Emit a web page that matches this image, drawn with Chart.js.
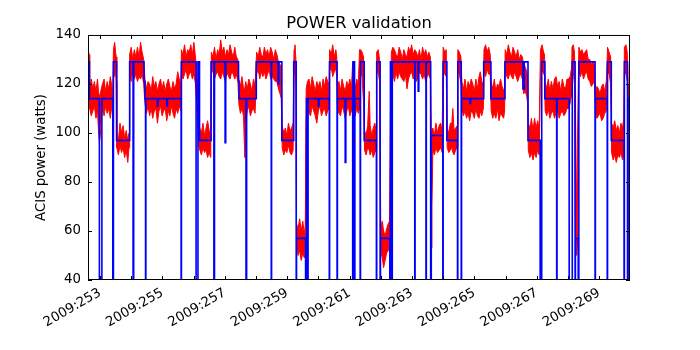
<!DOCTYPE html>
<html>
<head>
<meta charset="utf-8">
<title>POWER validation</title>
<script src="https://cdn.jsdelivr.net/npm/chart.js@4.4.1/dist/chart.umd.min.js"></script>
<style>
  html, body { margin: 0; padding: 0; background: #fff; }
  #wrap { width: 700px; height: 350px; }
</style>
</head>
<body>
<div id="wrap"><canvas id="myChart" width="700" height="350"></canvas></div>
<script>
// x values are 2009 day-of-year (fractional days)
var labelDays = [253, 255, 257, 259, 261, 263, 265, 267, 269];
var yTicks = [40, 60, 80, 100, 120, 140];

// Model (blue): power level holds from each time until the next one
var modelTime = [
  252.62, 252.66, 252.98, 253.06, 253.41, 253.43, 253.53, 253.95, 254.06, 254.08,
  254.41, 254.44, 254.46, 254.47, 254.84, 254.86, 255.14, 255.16, 255.60, 255.61,
  256.08, 256.14, 256.19, 256.56, 256.65, 256.67, 257.01, 257.03, 257.44, 257.46,
  257.68, 257.70, 258.01, 258.49, 258.50, 258.71, 258.73, 258.83, 259.21, 259.29,
  259.30, 259.59, 259.62, 259.64, 259.67, 260.00, 260.02, 260.35, 260.36, 260.60,
  260.61, 260.86, 260.88, 261.10, 261.11, 261.16, 261.17, 261.34, 261.35, 261.47,
  261.86, 261.87, 261.98, 261.99, 262.29, 262.31, 262.33, 262.37, 263.09, 263.10,
  263.20, 263.22, 263.45, 263.46, 263.60, 263.62, 263.99, 264.00, 264.12, 264.46,
  264.47, 264.58, 264.59, 264.86, 264.88, 265.30, 265.53, 265.98, 266.56, 266.60,
  266.72, 267.11, 267.16, 267.26, 267.64, 267.65, 268.04, 268.14, 268.23, 268.24,
  268.33, 268.35, 268.87, 268.88, 269.26, 269.27, 269.39, 269.80, 269.81, 269.91,
  269.93, 269.99
];
var modelPower = [
  129, 114, 0, 114, 0, 129, 97, 129, 0, 129,
  121, 114, 0, 114, 111, 114, 111, 114, 0, 129,
  0, 129, 97, 129, 0, 129, 96, 129, 121, 114,
  0, 114, 129, 0, 129, 120, 129, 97, 129, 0,
  57, 0, 114, 0, 114, 111, 114, 0, 129, 0,
  114, 88, 114, 0, 129, 0, 114, 0, 129, 97,
  0, 129, 0, 57, 0, 129, 0, 129, 0, 129,
  117, 129, 0, 129, 0, 99, 0, 129, 97, 0,
  129, 0, 114, 112, 114, 129, 114, 129, 118, 129,
  97, 0, 129, 114, 0, 114, 0, 129, 0, 57,
  0, 129, 0, 114, 0, 129, 97, 0, 129, 0,
  114, 114
];

// Telemetry (red): noisy band, upper and lower edge
var telemTime = [
  252.62, 252.65,
  252.67, 252.72, 252.77, 252.82, 252.87, 252.92,
  252.95, 252.98, 253.01, 253.04,
  253.08, 253.13, 253.18, 253.23, 253.28, 253.33, 253.38, 253.41,
  253.43, 253.47, 253.50, 253.52,
  253.54, 253.59, 253.64, 253.69, 253.74, 253.79, 253.84, 253.89, 253.93,
  253.95, 254.00, 254.05, 254.10, 254.15, 254.20, 254.25, 254.30, 254.35, 254.40,
  254.44, 254.49, 254.54, 254.59, 254.64, 254.69, 254.74, 254.79, 254.84, 254.89, 254.94, 254.99,
  255.04, 255.09, 255.14, 255.19, 255.24, 255.29, 255.34, 255.39, 255.44, 255.49, 255.54, 255.59,
  255.61, 255.66, 255.71, 255.76, 255.81, 255.86, 255.91, 255.96, 256.01, 256.06,
  256.10, 256.16,
  256.20, 256.25, 256.30, 256.35, 256.40, 256.45, 256.50, 256.55,
  256.57, 256.62, 256.67, 256.72, 256.77, 256.82, 256.87, 256.92, 256.97,
  257.02, 257.07, 257.12, 257.17, 257.22, 257.27, 257.32, 257.37, 257.42,
  257.45, 257.50, 257.55, 257.60, 257.64, 257.67, 257.72, 257.77, 257.82, 257.87, 257.92, 257.97,
  258.02, 258.07, 258.12, 258.17, 258.22, 258.27, 258.32, 258.37, 258.42, 258.47, 258.52, 258.57, 258.62, 258.67,
  258.72, 258.77, 258.81,
  258.84, 258.89, 258.94, 258.99, 259.04, 259.09, 259.14, 259.19,
  259.22, 259.25, 259.28,
  259.30, 259.35, 259.40, 259.45, 259.50, 259.55, 259.58,
  259.61, 259.65, 259.70, 259.75, 259.80, 259.85, 259.90, 259.95,
  260.00, 260.05, 260.10, 260.15, 260.20, 260.25, 260.30, 260.34,
  260.36, 260.41, 260.46, 260.51, 260.56, 260.59,
  260.61, 260.66, 260.71, 260.76, 260.81, 260.86, 260.91, 260.96,
  261.01, 261.06, 261.10, 261.13, 261.18, 261.23, 261.28, 261.32,
  261.35, 261.40, 261.45,
  261.48, 261.53, 261.58, 261.63, 261.66, 261.71, 261.76, 261.81, 261.85,
  261.87, 261.92, 261.96,
  262.00, 262.05, 262.09, 262.14, 262.19, 262.24, 262.28, 262.31,
  262.34, 262.39, 262.44, 262.49, 262.54, 262.59, 262.64, 262.69, 262.74, 262.79, 262.84, 262.89, 262.94,
  262.99, 263.04, 263.09, 263.14, 263.19, 263.24, 263.29, 263.34, 263.39, 263.44, 263.49, 263.54, 263.59,
  263.62, 263.64, 263.67, 263.72, 263.77, 263.82, 263.87, 263.92, 263.97,
  264.00, 264.05, 264.10,
  264.13, 264.18, 264.23, 264.28, 264.31, 264.35, 264.40, 264.45,
  264.47, 264.52, 264.57,
  264.60, 264.65, 264.70, 264.75, 264.80, 264.85, 264.90, 264.95, 265.00, 265.05, 265.10, 265.15, 265.19, 265.24, 265.29,
  265.31, 265.36, 265.41, 265.46, 265.51,
  265.54, 265.59, 265.64, 265.69, 265.74, 265.79, 265.84, 265.89, 265.94, 265.97,
  265.99, 266.04, 266.09, 266.14, 266.19, 266.24, 266.29, 266.34, 266.39, 266.44, 266.49, 266.54,
  266.58, 266.63, 266.68, 266.71,
  266.73, 266.78, 266.83, 266.88, 266.93, 266.98, 267.03, 267.08,
  267.12, 267.17, 267.22, 267.25,
  267.27, 267.32, 267.37, 267.42, 267.47, 267.52, 267.57, 267.62, 267.67,
  267.72, 267.77, 267.82, 267.87, 267.92, 267.97, 268.02, 268.07, 268.11,
  268.13, 268.17, 268.21,
  268.24, 268.28, 268.31,
  268.35, 268.40, 268.45, 268.50, 268.55, 268.60, 268.65, 268.70, 268.75, 268.80, 268.85,
  268.88, 268.93, 268.98, 269.03, 269.08, 269.13, 269.18, 269.23,
  269.27, 269.32, 269.37,
  269.40, 269.45, 269.50, 269.55, 269.60, 269.65, 269.70, 269.75, 269.79,
  269.81, 269.86, 269.90,
  269.93, 269.99
];
var telemHigh = [
  134, 132,
  119, 122, 118, 121, 117, 122,
  117, 115, 116, 118,
  120, 122, 117, 121, 118, 123, 119, 118,
  134, 137, 133, 131,
  101, 97, 104, 100, 103, 98, 101, 97, 100,
  132, 135, 130, 134, 131, 135, 131, 137, 133, 130,
  122, 118, 121, 120, 117, 123, 119, 121, 117, 120, 122, 118,
  121, 117, 120, 122, 119, 117, 121, 118, 120, 125, 122, 120,
  134, 132, 136, 131, 134, 133, 136, 132, 137, 131,
  126, 104,
  102, 100, 104, 99, 102, 105, 101, 100,
  133, 131, 135, 130, 134, 132, 138, 133, 135,
  131, 134, 132, 136, 133, 131, 135, 131, 130,
  122, 119, 123, 118, 118, 121, 118, 122, 120, 117, 122, 119,
  133, 131, 135, 132, 131, 135, 132, 134, 131, 135, 133, 130, 134, 132,
  129, 128, 127,
  103, 100, 102, 99, 104, 101, 102, 104,
  134, 136, 130,
  63, 61, 65, 60, 64, 59, 62,
  118, 121, 122, 118, 123, 120, 117, 121,
  119, 121, 117, 122, 119, 123, 121, 120,
  134, 132, 136, 131, 134, 131,
  119, 121, 117, 122, 119, 117, 121, 119,
  122, 118, 129, 120, 118, 122, 120, 134,
  134, 133, 131,
  101, 99, 103, 117, 103, 99, 102, 104, 101,
  133, 134, 130,
  62, 64, 60, 58, 61, 63, 64, 108,
  133, 135, 134, 132, 131, 135, 133, 130, 134, 132, 131, 135, 133,
  136, 132, 134, 133, 131, 134, 130, 135, 132, 134, 131, 133, 131,
  100, 101, 102, 99, 104, 100, 103, 104, 101,
  135, 133, 134,
  102, 100, 104, 104, 110, 101, 102, 103,
  134, 133, 131,
  121, 118, 122, 117, 121, 119, 122, 120, 117, 122, 118, 123, 125, 121, 120,
  134, 136, 133, 135, 132,
  121, 118, 122, 117, 120, 119, 122, 119, 117, 119,
  134, 132, 136, 133, 131, 135, 133, 131, 134, 130, 132, 131,
  128, 127, 125, 122,
  104, 102, 106, 101, 106, 102, 105, 102,
  134, 136, 133, 132,
  121, 118, 122, 117, 121, 118, 122, 123, 119,
  121, 117, 122, 119, 118, 122, 122, 123, 126,
  135, 136, 133,
  110, 65, 100,
  135, 133, 134, 132, 133, 134, 130, 130, 128, 129, 128,
  117, 119, 118, 116, 119, 120, 117, 121,
  135, 133, 131,
  104, 102, 105, 101, 103, 100, 104, 102, 106,
  135, 136, 133,
  120, 119
];
var telemLow = [
  125, 112,
  110, 107, 109, 111, 106, 109,
  101, 96, 99, 106,
  110, 107, 111, 108, 110, 106, 111, 109,
  125, 123, 126, 121,
  94, 91, 95, 92, 94, 90, 93, 88, 94,
  124, 121, 125, 122, 124, 121, 123, 122, 124, 120,
  112, 108, 111, 107, 110, 106, 109, 110, 104, 109, 111, 107,
  109, 110, 105, 109, 107, 111, 108, 106, 110, 108, 111, 109,
  125, 122, 124, 126, 122, 124, 125, 122, 124, 120,
  112, 95,
  93, 91, 94, 92, 93, 90, 92, 90,
  124, 126, 122, 124, 125, 123, 122, 125, 123,
  121, 125, 123, 122, 125, 124, 122, 124, 121,
  112, 108, 110, 107, 90, 104, 109, 111, 107, 109, 110, 108,
  124, 126, 122, 125, 123, 125, 122, 124, 126, 122, 123, 122, 121, 121,
  118, 116, 114,
  94, 91, 93, 92, 95, 92, 91, 93,
  124, 126, 120,
  54, 50, 52, 48, 51, 49, 53,
  106, 110, 108, 107, 111, 109, 107, 104,
  109, 111, 107, 109, 110, 107, 109, 110,
  125, 127, 123, 125, 126, 123,
  110, 108, 107, 111, 109, 106, 109, 111,
  107, 109, 110, 108, 107, 110, 108, 110,
  124, 123, 112,
  93, 91, 94, 93, 91, 93, 90, 92, 93,
  124, 125, 121,
  52, 49, 45, 48, 51, 52, 55, 60,
  123, 124, 121, 125, 122, 125, 123, 122, 121, 124, 118, 122, 124,
  125, 122, 124, 121, 123, 125, 124, 122, 124, 121, 123, 124, 122,
  53, 70, 93, 91, 94, 92, 93, 94, 92,
  125, 124, 123,
  94, 92, 93, 94, 92, 91, 93, 94,
  125, 124, 120,
  110, 107, 109, 106, 108, 105, 109, 108, 106, 110, 107, 106, 109, 107, 110,
  125, 123, 126, 124, 124,
  109, 106, 108, 106, 110, 105, 108, 107, 106, 109,
  125, 123, 122, 125, 123, 122, 125, 123, 121, 123, 124, 122,
  116, 117, 115, 112,
  93, 90, 92, 89, 92, 90, 93, 91,
  125, 126, 124, 124,
  109, 107, 110, 106, 108, 109, 106, 108, 109,
  106, 108, 109, 107, 108, 110, 110, 112, 115,
  126, 125, 120,
  60, 50, 55,
  125, 123, 125, 122, 124, 125, 122, 121, 119, 120, 121,
  108, 106, 107, 108, 105, 106, 108, 109,
  125, 124, 120,
  92, 89, 91, 88, 91, 90, 92, 89, 91,
  125, 124, 121,
  110, 109
];

if (telemTime.length !== telemHigh.length || telemTime.length !== telemLow.length) {
  console.log("telemetry arrays differ:", telemTime.length, telemHigh.length, telemLow.length);
}
if (modelTime.length !== modelPower.length) {
  console.log("model arrays differ:", modelTime.length, modelPower.length);
}

function toPoints(xs, ys) {
  return xs.map(function (x, i) { return { x: x, y: ys[i] }; });
}

// Inward tick marks on all four sides plus the axes frame (matplotlib look)
var frameTicks = {
  id: "frameTicks",
  afterDraw: function (chart) {
    var ctx = chart.ctx;
    var a = chart.chartArea;
    var xs = chart.scales.x;
    var ys = chart.scales.y;
    ctx.save();
    ctx.strokeStyle = "#000";
    ctx.lineWidth = 1;
    ctx.beginPath();
    xs.ticks.forEach(function (t) {
      if (Math.abs(t.value - Math.round(t.value)) > 1e-6) return;
      var px = Math.round(xs.getPixelForValue(t.value)) + 0.5;
      ctx.moveTo(px, a.bottom); ctx.lineTo(px, a.bottom - 4);
      ctx.moveTo(px, a.top); ctx.lineTo(px, a.top + 4);
    });
    ys.ticks.forEach(function (t) {
      var py = Math.round(ys.getPixelForValue(t.value)) + 0.5;
      ctx.moveTo(a.left, py); ctx.lineTo(a.left + 4, py);
      ctx.moveTo(a.right, py); ctx.lineTo(a.right - 4, py);
    });
    ctx.stroke();
    ctx.strokeRect(a.left + 0.5, a.top + 0.5, a.right - a.left - 1, a.bottom - a.top - 1);
    ctx.restore();
  }
};

Chart.defaults.font.family = "'DejaVu Sans', sans-serif";
Chart.defaults.color = "#000";

var ctx = document.getElementById("myChart").getContext("2d");
var myChart = new Chart(ctx, {
  type: "line",
  data: {
    datasets: [
      {
        label: "Model",
        data: toPoints(modelTime, modelPower),
        borderColor: "#0000ff",
        borderWidth: 1.6,
        stepped: true,
        pointRadius: 0,
        fill: false,
        order: 0
      },
      {
        label: "Telemetry high",
        data: toPoints(telemTime, telemHigh),
        borderColor: "#ff0000",
        backgroundColor: "#ff0000",
        borderWidth: 1,
        pointRadius: 0,
        fill: false,
        order: 1
      },
      {
        label: "Telemetry low",
        data: toPoints(telemTime, telemLow),
        borderColor: "#ff0000",
        backgroundColor: "#ff0000",
        borderWidth: 1,
        pointRadius: 0,
        fill: "-1",
        order: 2
      }
    ]
  },
  options: {
    responsive: false,
    animation: false,
    events: [],
    layout: { padding: { left: 0, right: 70, top: 0, bottom: 0 } },
    plugins: {
      legend: { display: false },
      tooltip: { enabled: false },
      title: {
        display: true,
        fullSize: false,
        text: "POWER validation",
        color: "#000",
        font: { size: 16.3, weight: "normal" },
        padding: { top: 14, bottom: 1.4 }
      }
    },
    scales: {
      x: {
        type: "linear",
        min: 252.615,
        max: 269.99,
        grid: { display: false, drawTicks: false },
        border: { display: false },
        ticks: {
          stepSize: 1,
          autoSkip: false,
          includeBounds: false,
          minRotation: 30,
          maxRotation: 30,
          padding: 5,
          font: { size: 13.3 },
          callback: function (value) {
            var d = Math.round(value);
            return labelDays.indexOf(d) >= 0 && Math.abs(value - d) < 1e-6 ? "2009:" + d : "";
          }
        },
        afterFit: function (scale) { scale.height = 70; }
      },
      y: {
        min: 40,
        max: 140,
        grid: { display: false, drawTicks: false },
        border: { display: false },
        ticks: {
          stepSize: 20,
          padding: 7,
          font: { size: 13.3 },
          callback: function (value) { return yTicks.indexOf(value) >= 0 ? String(value) : ""; }
        },
        title: {
          display: true,
          text: "ACIS power (watts)",
          font: { size: 13.3 },
          padding: { top: 34, bottom: 0 }
        },
        afterFit: function (scale) { scale.width = 88; }
      }
    }
  },
  plugins: [frameTicks]
});
</script>
</body>
</html>
